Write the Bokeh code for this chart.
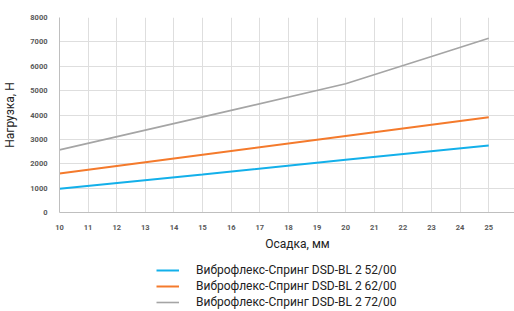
from bokeh.plotting import figure
from bokeh.models import Legend, LegendItem, Label, Range1d, FixedTicker
from bokeh.layouts import column
from bokeh.embed import file_html
from bokeh.resources import INLINE

# Data
x_blue = [10, 15, 20, 25]
y_blue = [970, 1560, 2160, 2750]
x_orange = [10, 15, 20, 25]
y_orange = [1600, 2370, 3140, 3910]
x_grey = [10, 16, 20, 23, 25]
y_grey = [2570, 4190, 5280, 6400, 7150]

names = ["Виброфлекс-Спринг DSD-BL 2 52/00",
         "Виброфлекс-Спринг DSD-BL 2 62/00",
         "Виброфлекс-Спринг DSD-BL 2 72/00"]
colors = ["#13b0ea", "#f47a2c", "#a5a5a5"]
widths = [2, 2, 1.6]
x_ticks = list(range(10, 27))
y_ticks = list(range(0, 8001, 1000))
series = [(x_blue, y_blue), (x_orange, y_orange), (x_grey, y_grey)]

W = 514

p = figure(width=W, height=232, output_backend="svg", toolbar_location=None,
           x_range=Range1d(10, 25.9), y_range=Range1d(0, 8000),
           min_border_left=58, min_border_right=0, min_border_top=17,
           min_border_bottom=20)
p.outline_line_color = None

for (xs, ys), c, w in zip(series, colors, widths):
    p.line(xs, ys, line_color=c, line_width=w)

for ax in (p.xaxis[0], p.yaxis[0]):
    ax.axis_line_color = "#bfbfbf"
    ax.major_tick_line_color = None
    ax.minor_tick_line_color = None
    ax.major_label_text_font = "Roboto"
    ax.major_label_text_font_style = "bold"
    ax.major_label_text_font_size = "7.5px"
    ax.major_label_text_color = "#595959"

p.xaxis.ticker = FixedTicker(ticks=x_ticks)
p.yaxis.ticker = FixedTicker(ticks=y_ticks)
p.xaxis.major_label_standoff = 6
p.yaxis.major_label_standoff = 6

p.yaxis.axis_label = "Нагрузка, Н"
p.yaxis.axis_label_text_font = "Roboto"
p.yaxis.axis_label_text_font_style = "normal"
p.yaxis.axis_label_text_font_size = "12px"
p.yaxis.axis_label_text_color = "#222222"
p.yaxis.axis_label_standoff = 10

p.xgrid.ticker = FixedTicker(ticks=x_ticks)
p.ygrid.ticker = FixedTicker(ticks=y_ticks)
p.grid.grid_line_color = "#dedede"
p.grid.grid_line_width = 1

# Lower panel: x-axis title and legend (frame aligned with the main plot)
p2 = figure(width=W, height=79, output_backend="svg", toolbar_location=None,
            x_range=Range1d(0, 1), y_range=Range1d(0, 1),
            min_border=0, x_axis_type=None, y_axis_type=None)
p2.outline_line_color = None
p2.grid.visible = False

rends = []
for (xs, ys), c, w in zip(series, colors, widths):
    rends.append(p2.line(xs, ys, line_color=c, line_width=w))

xl = Label(x=238, y=68, x_units="screen", y_units="screen", text="Осадка, мм",
           text_font="Roboto", text_font_size="12px", text_color="#222222",
           text_align="center", text_baseline="middle")
p2.add_layout(xl)

legend = Legend(items=[LegendItem(label=n, renderers=[r]) for n, r in zip(names, rends)],
                location=(97, 1), orientation="vertical",
                label_text_font="Roboto", label_text_font_size="12px",
                label_text_color="#222222", glyph_width=23, glyph_height=16,
                label_height=16, label_standoff=17, spacing=0, padding=0,
                margin=0, border_line_color=None, background_fill_alpha=0)
p2.add_layout(legend)

open("out.html", "w").write(file_html(column(p, p2, spacing=0), INLINE))
